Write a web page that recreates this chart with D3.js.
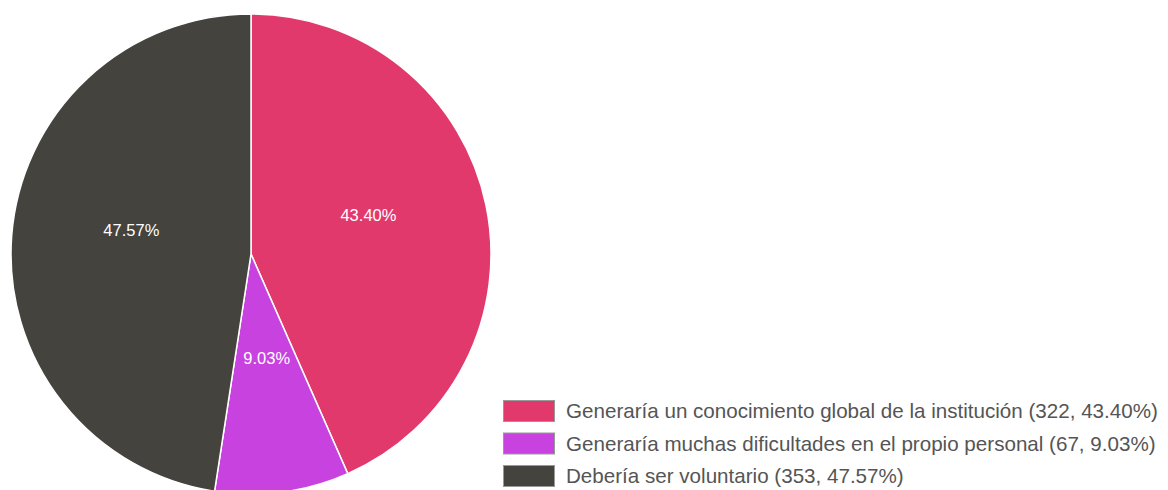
<!DOCTYPE html>
<html>
<head>
<meta charset="utf-8">
<script src="https://cdn.jsdelivr.net/npm/d3@7"></script>
<style>
  body { margin: 0; background: #fff; }
  svg { display: block; font-family: "Liberation Sans", Arial, Helvetica, sans-serif; }
  .legend text { fill: #555; font-size: 20.6px; }
  .slice-label { fill: #fff; font-size: 16.5px; }
</style>
</head>
<body>
<div id="chart"></div>
<script>
var categories = [
  "Generaría un conocimiento global de la institución",
  "Generaría muchas dificultades en el propio personal",
  "Debería ser voluntario"
];
var counts = [322, 67, 353];
var colors = ["#e2396c", "#c842e0", "#45433d"];

var width = 1168, height = 490,
  cx = 251, cy = 254, radius = 240;

var total = d3.sum(counts);
var data = categories.map(function (c, i) {
  return { name: c, value: counts[i], color: colors[i] };
});
function pct(d) { return (d.value / total * 100).toFixed(2) + "%"; }

var svg = d3.select("#chart").append("svg")
  .attr("width", width)
  .attr("height", height);

var pie = d3.pie()
  .sort(null)
  .value(function (d) { return d.value; });

var arc = d3.arc().innerRadius(0).outerRadius(radius);
var labelArc = d3.arc().innerRadius(radius * 0.5).outerRadius(radius * 0.5);

var bodyG = svg.append("g")
  .attr("transform", "translate(" + cx + "," + cy + ")");

bodyG.selectAll("path")
  .data(pie(data))
  .enter().append("path")
  .attr("d", arc)
  .attr("fill", function (d) { return d.data.color; })
  .attr("stroke", "#fff")
  .attr("stroke-width", 1.5);

bodyG.selectAll("text")
  .data(pie(data))
  .enter().append("text")
  .attr("class", "slice-label")
  .attr("text-anchor", "middle")
  .attr("dy", ".35em")
  .attr("transform", function (d) {
    var c = labelArc.centroid(d);
    return "translate(" + c[0] + "," + (c[1] - radius * 0.06) + ")";
  })
  .text(pct);

var legend = svg.append("g")
  .attr("class", "legend")
  .attr("transform", "translate(503,400)");

var rows = legend.selectAll("g")
  .data(data)
  .enter().append("g")
  .attr("transform", function (d, i) { return "translate(0," + (i * 32.5) + ")"; });

rows.append("rect")
  .attr("x", 0.5).attr("y", 0.5)
  .attr("width", 51).attr("height", 21)
  .attr("fill", function (d) { return d.color; })
  .attr("stroke", "#999")
  .attr("stroke-width", 1);

rows.append("text")
  .attr("x", 63)
  .attr("y", 11)
  .attr("dy", ".35em")
  .text(function (d) { return d.name + " (" + d.value + ", " + pct(d) + ")"; });
</script>
</body>
</html>
